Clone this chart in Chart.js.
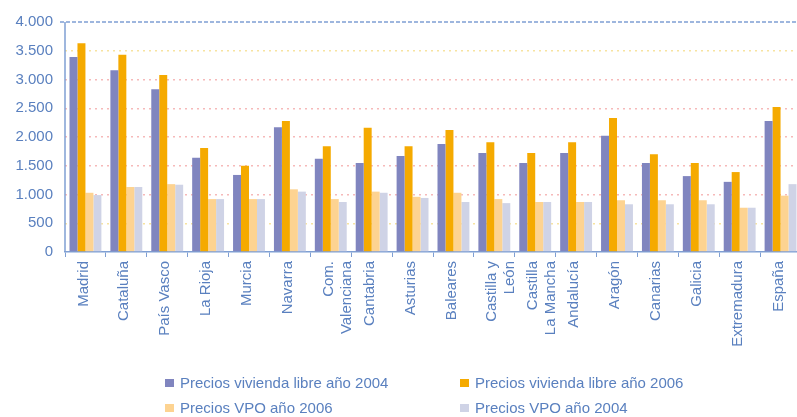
<!DOCTYPE html>
<html>
<head>
<meta charset="utf-8">
<script src="https://cdn.jsdelivr.net/npm/chart.js@4"></script>
<style>
    html, body { margin: 0; padding: 0; background: #fff; overflow: hidden; }
    #wrap { position: relative; width: 803px; height: 417px; }
    .legend-item { position: absolute; font: 15px 'Liberation Sans', Arial, sans-serif; color: #5a80bf; white-space: nowrap; }
    .legend-item span { display: inline-block; width: 9px; height: 8px; margin-right: 6px; vertical-align: 1px; }
</style>
</head>
<body>
<div id="wrap">
    <canvas id="chart" width="803" height="417"></canvas>
    <div class="legend-item" style="left:165px; top:374px;"><span style="background:#8085bf"></span>Precios vivienda libre año 2004</div>
    <div class="legend-item" style="left:460px; top:374px;"><span style="background:#f5aa00"></span>Precios vivienda libre año 2006</div>
    <div class="legend-item" style="left:165px; top:399px;"><span style="background:#fdd391"></span>Precios VPO año 2006</div>
    <div class="legend-item" style="left:460px; top:399px;"><span style="background:#cfd3e6"></span>Precios VPO año 2004</div>
</div>
<script>
const regions = ['Madrid', 'Cataluña', 'País Vasco', 'La Rioja', 'Murcia', 'Navarra', ['Com.', 'Valenciana'],
    'Cantabria', 'Asturias', 'Baleares', ['Castilla y', 'León'], ['Castilla', 'La Mancha'], 'Andalucía',
    'Aragón', 'Canarias', 'Galicia', 'Extremadura', 'España'];

const libre2004 = [3390, 3160, 2830, 1640, 1340, 2170, 1620, 1550, 1670, 1880, 1720, 1550, 1720, 2020, 1550, 1320, 1220, 2280];
const libre2006 = [3630, 3430, 3080, 1810, 1500, 2280, 1840, 2160, 1840, 2120, 1910, 1720, 1910, 2330, 1700, 1550, 1390, 2520];
const vpo2006 = [1030, 1130, 1180, 920, 920, 1090, 920, 1050, 960, 1030, 920, 870, 870, 900, 900, 900, 770, 980];
const vpo2004 = [990, 1130, 1170, 920, 920, 1050, 870, 1030, 940, 870, 850, 870, 870, 830, 830, 830, 770, 1180];

const yTicks = [0, 500, 1000, 1500, 2000, 2500, 3000, 3500, 4000];

const axisBlue = '#7f9fd3';
const textBlue = '#5a80bf';

// solid y axis line plus the dashed blue line along the top gridline (4.000)
const axisLines = {
    id: 'axisLines',
    afterDraw(chart) {
        const ctx = chart.ctx;
        const area = chart.chartArea;
        const y = chart.scales.y.getPixelForValue(yTicks[yTicks.length - 1]);
        ctx.save();
        ctx.strokeStyle = axisBlue;
        ctx.lineWidth = 1.5;
        ctx.beginPath();
        ctx.moveTo(area.left, area.top);
        ctx.lineTo(area.left, area.bottom);
        ctx.stroke();
        ctx.setLineDash([4, 2]);
        ctx.beginPath();
        ctx.moveTo(area.left - 5, y);
        ctx.lineTo(area.right, y);
        ctx.stroke();
        ctx.restore();
    }
};

function formatThousands(v) {
    return String(v).replace(/\B(?=(\d{3})+(?!\d))/g, '.');
}

new Chart(document.getElementById('chart'), {
    type: 'bar',
    data: {
        labels: regions,
        datasets: [
            { label: 'Precios vivienda libre año 2004', data: libre2004, backgroundColor: '#8085bf' },
            { label: 'Precios vivienda libre año 2006', data: libre2006, backgroundColor: '#f5aa00' },
            { label: 'Precios VPO año 2006', data: vpo2006, backgroundColor: '#fdd391' },
            { label: 'Precios VPO año 2004', data: vpo2004, backgroundColor: '#cfd3e6' }
        ]
    },
    options: {
        responsive: false,
        animation: false,
        categoryPercentage: 0.78,
        barPercentage: 1.0,
        layout: { padding: { top: 22, left: 0, right: 2, bottom: 0 } },
        plugins: {
            legend: { display: false },
            tooltip: { enabled: false }
        },
        scales: {
            x: {
                afterFit: function(scale) { scale.height = 165; },
                border: { color: axisBlue, width: 1.5 },
                grid: {
                    offset: true,
                    drawOnChartArea: false,
                    tickLength: 5,
                    tickColor: axisBlue
                },
                ticks: {
                    minRotation: 90,
                    maxRotation: 90,
                    autoSkip: false,
                    padding: 4,
                    labelOffset: -2,
                    color: textBlue,
                    font: { family: "'Liberation Sans', Arial, sans-serif", size: 15 }
                }
            },
            y: {
                min: 0,
                max: 4000,
                afterFit: function(scale) { scale.width = 65; },
                afterBuildTicks: function(scale) { scale.ticks = yTicks.map(v => ({ value: v })); },
                border: { display: false, dash: [2, 4] },
                grid: {
                    color: function(ctx) {
                        const v = ctx.tick ? ctx.tick.value : 0;
                        if (v === 0 || v === 4000) return 'rgba(0,0,0,0)';
                        if (v === 500 || v === 3500) return '#f7e3a0';
                        return '#f6b9b9';
                    },
                    lineWidth: 1.5,
                    drawTicks: false
                },
                ticks: {
                    padding: 12,
                    color: textBlue,
                    font: { family: "'Liberation Sans', Arial, sans-serif", size: 15 },
                    callback: function(v) { return formatThousands(v); }
                }
            }
        }
    },
    plugins: [axisLines]
});
</script>
</body>
</html>
